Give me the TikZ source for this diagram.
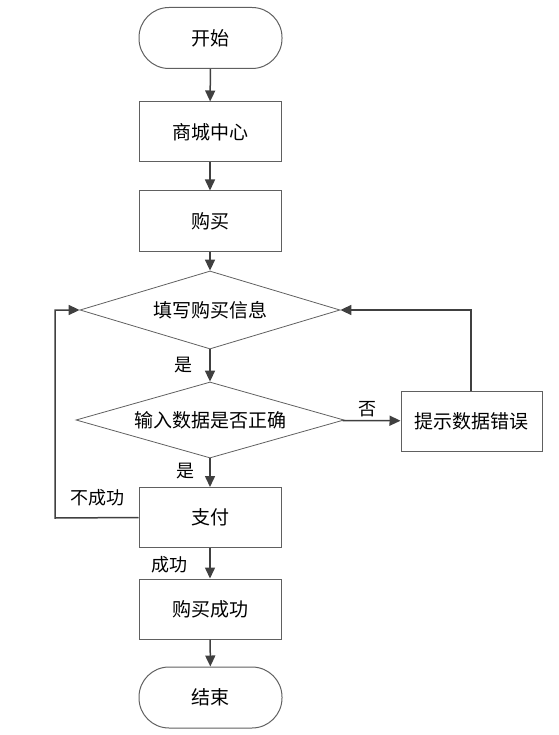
\documentclass[tikz,border=0pt]{standalone}
\usepackage{fontspec}
\setmainfont{Noto Sans CJK SC}
\usetikzlibrary{arrows.meta,shapes.geometric,calc}
\definecolor{linec}{HTML}{404040}
\definecolor{boxc}{HTML}{606060}
\begin{document}
\begin{tikzpicture}[x=1pt,y=-1pt,
  every node/.style={font=\fontsize{19}{22}\selectfont, text=black},
  procbox/.style={draw=boxc, line width=1pt, minimum width=142pt, minimum height=60pt, inner sep=0pt},
  termbox/.style={draw=boxc, line width=1pt, rounded corners=30pt, minimum width=143pt, minimum height=61pt, inner sep=0pt},
  decbox/.style={draw=boxc, line width=0.8pt, diamond, aspect=3.4, inner sep=0pt},
  conn/.style={draw=linec, line width=1.5pt, -{Triangle[length=11pt,width=10pt]}},
  lab/.style={font=\fontsize{18}{20}\selectfont, inner sep=0pt}
]
\useasboundingbox (0,0) rectangle (558,735);
\node[termbox] (start) at (210.5,38) {开始};
\node[procbox] (mall) at (210,132) {商城中心};
\node[procbox] (buy) at (210,221) {购买};
\node[decbox, minimum width=260pt, minimum height=78pt] (fill) at (210,310) {填写购买信息};
\node[decbox, minimum width=268pt, minimum height=76pt] (check) at (210,420) {输入数据是否正确};
\node[procbox, minimum width=141pt] (err) at (471.5,421) {提示数据错误};
\node[procbox] (pay) at (210,517.5) {支付};
\node[procbox] (ok) at (210,609) {购买成功};
\node[termbox] (end) at (210.5,697.5) {结束};
\coordinate (lx) at (55,518);
\coordinate (ly) at (55,310);
\coordinate (ey) at (471,310);

\draw[conn] (start) -- (mall);
\draw[conn] (mall) -- (buy);
\draw[conn] (buy) -- (fill);
\draw[conn] (fill) -- (check);
\draw[conn] (check) -- (err);
\draw[conn] (check) -- (pay);
\draw[conn] (pay) -- (ok);
\draw[conn] (ok) -- (end);
\draw[conn] (pay.west) -- (lx) -- (ly) -- (fill.west);
\draw[conn] (err.north -| ey) -- (ey) -- (fill.east);

\node[lab] (l1) at (183,365) {是};
\node[lab] (l2) at (185,471) {是};
\node[lab] (l3) at (367,409) {否};
\node[lab] (l4) at (97,498) {不成功};
\node[lab] (l5) at (169,565) {成功};
\end{tikzpicture}
\end{document}
